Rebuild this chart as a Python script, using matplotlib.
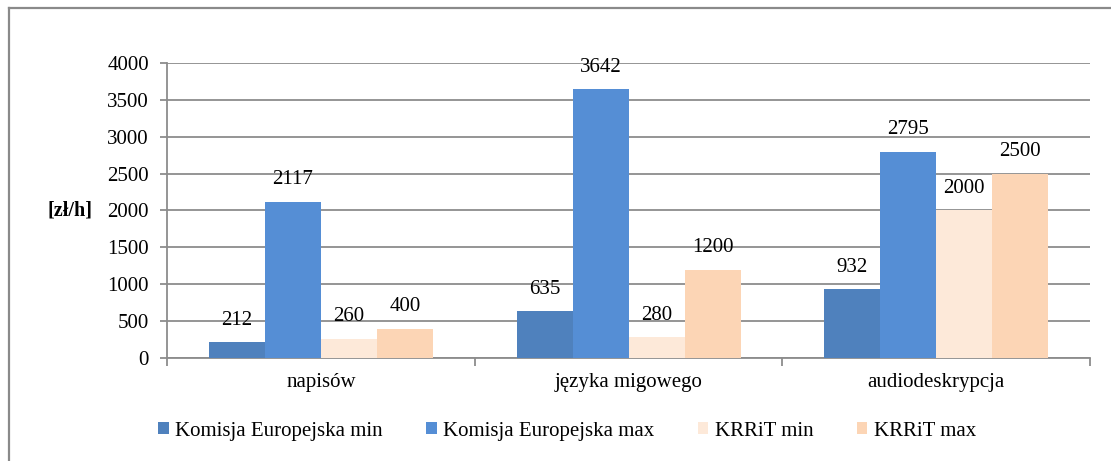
import numpy as np
import matplotlib.pyplot as plt
from matplotlib.lines import Line2D

# data
categories = ['napisów', 'języka migowego', 'audiodeskrypcja']
series_names = ['Komisja Europejska min', 'Komisja Europejska max', 'KRRiT min', 'KRRiT max']
ke_min = [212, 635, 932]
ke_max = [2117, 3642, 2795]
krrit_min = [260, 280, 2000]
krrit_max = [400, 1200, 2500]
yticks = [0, 500, 1000, 1500, 2000, 2500, 3000, 3500, 4000]

colors = ['#4F81BD', '#558ED5', '#FDE9D9', '#FCD5B5']
grid_c = '#8c8c8c'

plt.rcParams['font.family'] = 'serif'
plt.rcParams['font.serif'] = ['Liberation Serif', 'DejaVu Serif']

fig = plt.figure(figsize=(11.11, 4.61), dpi=100)
ax = fig.add_axes([0.1503, 0.2234, 0.831, 0.640])

# outer frame (only left and top visible)
fig.add_artist(Line2D([9/1111, 9/1111], [0, 1 - 8/461], transform=fig.transFigure, color='#8a8a8a', lw=1.6))
fig.add_artist(Line2D([9/1111, 1], [1 - 8/461, 1 - 8/461], transform=fig.transFigure, color='#8a8a8a', lw=1.6))

x = np.arange(len(categories))
w = 0.182
all_series = [ke_min, ke_max, krrit_min, krrit_max]
for i, vals in enumerate(all_series):
    pos = x + (i - 1.5) * w
    bars = ax.bar(pos, vals, width=w, color=colors[i], label=series_names[i], zorder=3)
    for b, v in zip(bars, vals):
        ax.annotate(str(v), (b.get_x() + b.get_width() / 2, v), xytext=(0, 9),
                    textcoords='offset points', ha='center', va='bottom', fontsize=15, zorder=4)

ax.set_xlim(-0.5, 2.5)
ax.set_ylim(0, 4000)
ax.set_yticks(yticks)
ax.yaxis.grid(True, color=grid_c, lw=1.3, zorder=0)
ax.tick_params(axis='y', length=5, width=1.3, color=grid_c, labelsize=15, pad=8)

# category boundaries as major ticks, labels at centers
ax.set_xticks([-0.5, 0.5, 1.5, 2.5])
ax.set_xticklabels([])
ax.set_xticks(x, minor=True)
ax.set_xticklabels(categories, minor=True, fontsize=15)
ax.tick_params(axis='x', which='major', length=6, width=1.3, color=grid_c)
ax.tick_params(axis='x', which='minor', length=0, pad=11)

for s in ['top', 'right']:
    ax.spines[s].set_visible(False)
for s in ['left', 'bottom']:
    ax.spines[s].set_color(grid_c)
    ax.spines[s].set_linewidth(1.3)

ax.text(-0.105, 2000 / 4000, '[zł/h]', transform=ax.transAxes, ha='center', va='center',
        fontsize=14.5, fontweight='bold')

fig.legend(loc='center', bbox_to_anchor=(0.5105, 0.065), ncol=4, frameon=False, fontsize=15,
           handlelength=0.5, handleheight=0.5, handletextpad=0.3, columnspacing=2.1)

plt.savefig('out.png', dpi=100)
